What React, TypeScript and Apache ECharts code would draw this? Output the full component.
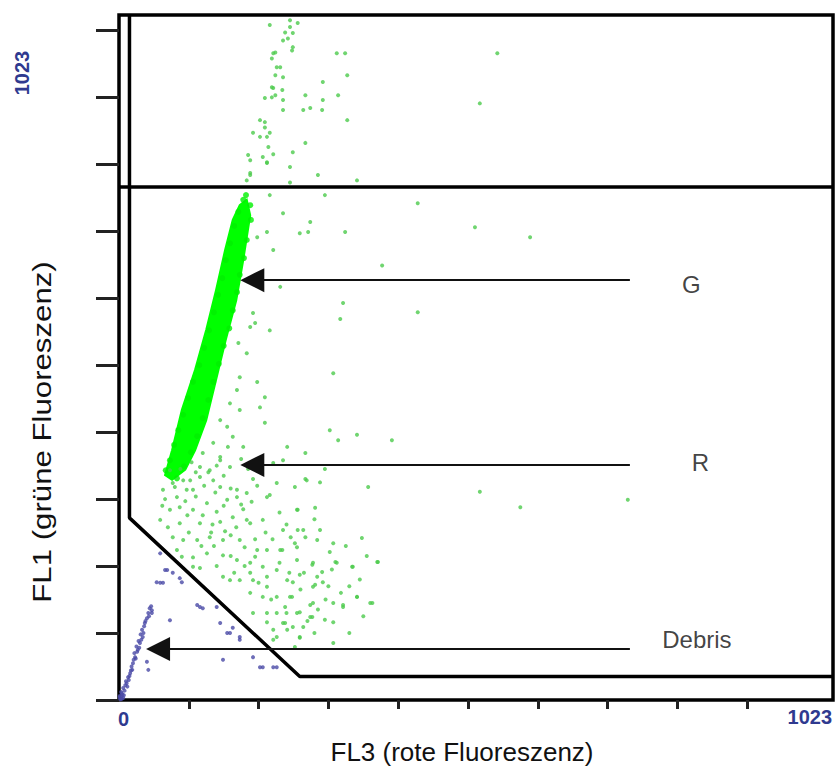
import React, { useEffect, useRef } from 'react';
import * as echarts from 'echarts';

// Axis ranges and ticks (FL3 on x, FL1 on y, 10-bit channels)
const AXIS_MAX = 1023;
const xTickValues = [100, 200, 300, 400, 500, 600, 700, 800, 900];
const yTickValues = [0, 100, 200, 300, 400, 500, 600, 700, 800, 900, 1000];
const xEndLabels = ['0', '1023'];
const yEndLabel = '1023';

// Outline of the dense green (G) population band
const bandOutline = [
  [183, 747], [188, 724], [178, 657], [168, 597], [153, 538], [139, 478], [125, 418],
  [109, 373], [95, 344], [76, 329], [66, 336], [76, 373], [90, 433], [109, 493],
  [125, 553], [139, 612], [152, 672], [163, 717], [173, 739],
];

// Speckled events along the edge of the dense band
const bandEdgePoints = [
  [67, 343], [73, 358], [79, 381], [85, 403], [92, 426], [99, 451], [106, 475], [115, 500],
  [122, 526], [129, 552], [136, 579], [142, 605], [148, 630], [153, 657], [159, 682],
  [165, 708], [171, 729], [178, 747], [182, 754],
  [188, 739], [189, 717], [183, 687], [179, 660], [173, 635], [169, 609], [163, 582],
  [158, 555], [150, 529], [143, 502], [135, 475], [128, 448], [120, 421], [112, 394],
  [103, 370], [93, 349], [83, 331],
];

// Scattered green events (top stream, R population, sparse events)
const greenTopStream = [
  [216, 1008], [245, 1005], [256, 1011], [238, 997], [235, 985], [242, 988], [249, 975], [248, 970],
  [221, 966], [219, 958], [224, 967], [231, 945], [224, 933], [235, 930], [221, 914], [219, 900],
  [209, 899], [235, 896], [224, 903], [267, 903], [235, 881], [264, 881], [274, 884], [291, 881],
  [292, 923], [292, 896], [314, 903], [327, 933], [312, 966], [324, 966], [327, 866], [202, 866],
  [209, 863], [209, 855], [192, 847], [202, 841], [216, 847], [267, 832], [214, 826], [249, 818],
  [221, 815], [206, 811], [185, 814], [188, 806], [212, 803], [245, 796], [285, 784], [188, 784],
  [341, 776], [183, 776], [245, 773], [542, 966], [517, 891], [245, 1015], [249, 996], [226, 945],
  [219, 915], [234, 911], [212, 841], [212, 802], [188, 787],
];

const greenSparse = [
  [295, 754], [428, 742], [235, 727], [274, 714], [259, 697], [271, 699], [324, 699], [510, 706],
  [589, 691], [377, 649], [321, 593], [428, 579], [317, 569], [307, 488], [302, 403], [314, 388],
  [341, 396], [391, 388], [241, 378], [267, 369], [235, 358], [295, 345], [267, 330], [252, 318],
  [288, 325], [357, 318], [517, 311], [575, 288], [729, 299], [256, 284], [281, 287], [235, 254],
  [256, 254], [288, 254], [267, 243], [252, 234], [307, 234], [348, 242], [302, 221], [234, 224],
  [370, 206], [334, 199], [277, 202], [310, 206], [259, 187], [291, 191], [249, 176], [281, 172],
  [292, 176], [248, 154], [341, 154], [363, 145], [321, 142], [274, 142], [238, 139], [277, 124],
  [259, 131], [307, 116], [238, 115], [249, 109], [259, 93], [307, 85], [252, 79],
  [295, 120], [330, 100], [285, 135], [350, 125], [318, 160], [300, 170], [345, 180], [265, 190],
  [230, 205], [200, 175], [180, 200], [160, 215], [132, 250], [260, 165], [240, 130], [280, 100],
  [296, 150], [330, 170], [355, 215], [244, 190], [218, 150], [270, 118], [305, 195], [325, 230],
  [280, 270], [246, 243], [230, 280], [210, 250], [195, 240], [180, 228],
];

const greenNearBand = [
  [216, 754], [212, 699], [198, 691], [221, 672], [231, 617], [192, 578], [188, 557], [195, 563],
  [216, 552], [183, 518], [171, 533], [198, 475], [209, 452], [173, 482], [169, 463], [202, 437],
  [159, 443], [173, 433], [145, 418], [155, 408], [209, 414], [163, 393], [135, 384], [178, 378],
  [120, 369], [145, 363], [221, 354], [159, 348], [130, 343], [116, 333], [102, 328], [226, 324],
  [269, 328], [145, 318], [97, 314], [77, 324], [169, 314], [216, 306],
];

const greenLowerLeft = [
  [73, 343], [92, 328], [116, 348], [135, 328], [145, 358], [156, 378], [63, 314], [83, 303],
  [106, 314], [126, 294], [155, 299], [169, 303], [183, 309], [73, 284], [87, 288], [106, 284],
  [140, 281], [163, 273], [183, 269], [59, 269], [87, 264], [116, 264], [145, 266], [188, 264],
  [212, 303], [206, 269], [255, 284], [264, 254], [77, 243], [92, 239], [112, 239], [130, 243],
  [149, 239], [173, 239], [198, 224], [212, 224], [231, 224], [255, 228], [284, 239], [83, 224],
  [106, 213], [126, 219], [149, 216], [169, 209], [188, 205], [206, 199], [226, 194], [255, 209],
  [278, 205], [312, 205], [335, 199], [371, 206], [106, 199], [116, 197], [149, 184], [159, 179],
  [188, 190], [212, 184], [192, 179], [173, 179], [241, 179], [278, 169], [284, 184], [188, 160],
  [206, 154], [226, 154], [245, 154], [212, 169], [278, 145], [307, 145], [321, 139], [341, 154],
  [360, 145], [192, 130], [212, 130], [226, 130], [235, 115], [255, 130], [274, 124], [212, 116],
  [221, 105], [241, 105], [264, 109], [259, 94], [226, 94], [221, 90],
  [66, 300], [80, 318], [95, 297], [110, 304], [122, 320], [138, 310], [150, 290], [160, 316],
  [175, 292], [190, 296], [198, 320], [62, 290], [70, 258], [98, 276], [120, 276], [134, 262],
  [152, 252], [168, 258], [178, 285], [100, 250], [118, 230], [136, 230], [160, 246], [90, 214],
  [140, 200], [165, 190], [195, 214], [220, 240], [240, 262], [128, 340], [140, 350], [110, 340],
  [150, 335], [104, 355], [88, 345], [175, 360], [185, 345], [192, 330], [200, 352],
];

// Debris events (blue), below the diagonal gate
const debrisScatter = [
  [59, 219], [69, 194], [77, 190], [87, 182], [90, 176], [54, 176], [63, 175], [66, 194],
  [116, 139], [120, 137], [140, 139], [145, 115], [163, 108], [173, 94], [149, 60], [192, 64],
  [206, 49], [221, 49], [73, 119], [40, 57], [47, 130], [159, 100], [202, 49], [173, 90],
  [226, 49], [59, 175], [112, 142], [155, 100], [42, 45],
];

const debrisStream = [
  [47, 134], [42, 130], [44, 137], [37, 115], [33, 105], [34, 94], [30, 85], [27, 75], [23, 64],
  [20, 55], [19, 45], [13, 34], [11, 25], [6, 18], [4, 10], [1, 4], [40, 122], [36, 110],
  [31, 98], [28, 88], [25, 80], [22, 70], [21, 60], [18, 50], [16, 40], [14, 30], [9, 22],
  [8, 14], [5, 8], [3, 5], [2, 2], [6, 3], [3, 12], [10, 28], [17, 44], [24, 62], [29, 78],
  [35, 100], [43, 125], [46, 140], [12, 20], [15, 36], [26, 72], [32, 90], [38, 118], [2, 1],
  [4, 2], [1, 6], [7, 7],
];

// Gate lines
const gateBoundary = [[15, 1023], [15, 272], [259, 35], [1023, 35]];
const gateDivider = [[0, 766], [1023, 766]];

// Annotation arrows and labels
const arrowStartX = 732;
const arrowEnds = [[191, 627], [191, 351], [56, 76]];
const labelNames = ['G', 'R', 'Debris'];
const labelPositions = [[820, 620], [833, 355], [828, 91]];

const FONT = 'Arial, "Liberation Sans", sans-serif';
const BLUE_TEXT = '#2f3a8f';

export default function App() {
  const ref = useRef<HTMLDivElement>(null);

  useEffect(() => {
    document.body.style.margin = '0';
    if (!ref.current) return;
    const chart = echarts.init(ref.current, undefined, { renderer: 'svg' });

    const option: any = {
      animation: false,
      backgroundColor: '#ffffff',
      grid: {
        left: 119,
        right: 3,
        top: 15,
        bottom: 71,
        show: true,
        borderColor: '#000',
        borderWidth: 3.5,
        backgroundColor: 'transparent',
      },
      xAxis: {
        type: 'value',
        min: 0,
        max: AXIS_MAX,
        offset: 2,
        splitLine: { show: false },
        axisLine: { show: false },
        axisTick: {
          show: true,
          customValues: xTickValues,
          length: 9,
          lineStyle: { color: '#222', width: 3 },
        },
        axisLabel: { show: false },
      },
      yAxis: {
        type: 'value',
        min: 0,
        max: AXIS_MAX,
        offset: 4,
        splitLine: { show: false },
        axisLine: { show: false },
        axisTick: {
          show: true,
          customValues: yTickValues,
          length: 23,
          lineStyle: { color: '#222', width: 3 },
        },
        axisLabel: { show: false },
      },
      graphic: [
        {
          type: 'text',
          left: 118,
          top: 709,
          style: { text: xEndLabels[0], font: `bold 20px ${FONT}`, fill: BLUE_TEXT },
        },
        {
          type: 'text',
          right: 4,
          top: 707,
          style: { text: xEndLabels[1], font: `bold 20px ${FONT}`, fill: BLUE_TEXT },
        },
        {
          type: 'text',
          x: 22,
          y: 73,
          rotation: Math.PI / 2,
          style: {
            text: yEndLabel,
            font: `bold 20px ${FONT}`,
            fill: BLUE_TEXT,
            align: 'center',
            verticalAlign: 'middle',
          },
        },
        {
          type: 'text',
          x: 462,
          y: 752,
          style: {
            text: 'FL3 (rote Fluoreszenz)',
            font: `26px ${FONT}`,
            fill: '#111',
            align: 'center',
            verticalAlign: 'middle',
          },
        },
        {
          type: 'text',
          x: 42,
          y: 432,
          rotation: Math.PI / 2,
          scaleX: 1.2,
          style: {
            text: 'FL1 (grüne Fluoreszenz)',
            font: `26px ${FONT}`,
            fill: '#111',
            align: 'center',
            verticalAlign: 'middle',
          },
        },
      ],
      series: [
        {
          type: 'custom',
          name: 'G band',
          data: [bandOutline[0]],
          silent: true,
          renderItem: (params: any, api: any) => {
            const pts = bandOutline.map((p) => api.coord(p));
            return {
              type: 'polygon',
              shape: { points: pts },
              style: { fill: '#00ff00', stroke: '#00ff00', lineWidth: 2 },
            };
          },
        },
        {
          type: 'scatter',
          name: 'band edge',
          data: bandEdgePoints,
          symbolSize: 6,
          itemStyle: { color: '#00f000' },
          silent: true,
        },
        {
          type: 'scatter',
          name: 'green',
          data: [...greenTopStream, ...greenSparse, ...greenNearBand, ...greenLowerLeft],
          symbolSize: 4,
          itemStyle: { color: '#4ccb4c' },
          silent: true,
        },
        {
          type: 'scatter',
          name: 'debris',
          data: [...debrisScatter, ...debrisStream],
          symbolSize: 4,
          itemStyle: { color: '#4a4aa6' },
          silent: true,
        },
        {
          type: 'line',
          name: 'gate',
          data: gateBoundary,
          symbol: 'none',
          lineStyle: { color: '#000', width: 3.5 },
          silent: true,
          markLine: {
            silent: true,
            symbol: ['none', 'triangle'],
            symbolSize: 24,
            label: { show: false },
            lineStyle: { color: '#111', width: 2, type: 'solid' },
            itemStyle: { color: '#111' },
            data: arrowEnds.map((e) => [{ coord: [arrowStartX, e[1]] }, { coord: e }]),
          },
        },
        {
          type: 'line',
          name: 'divider',
          data: gateDivider,
          symbol: 'none',
          lineStyle: { color: '#000', width: 3.5 },
          silent: true,
        },
        {
          type: 'scatter',
          name: 'labels',
          data: labelPositions.map((p, i) => ({ value: p, name: labelNames[i] })),
          symbolSize: 1,
          itemStyle: { color: 'transparent' },
          silent: true,
          label: {
            show: true,
            position: 'inside',
            formatter: (p: any) => p.name,
            color: '#111',
            fontSize: 24,
            fontFamily: FONT,
          },
        },
      ],
    };

    chart.setOption(option);
    return () => chart.dispose();
  }, []);

  return <div ref={ref} style={{ width: 836, height: 771 }} />;
}
